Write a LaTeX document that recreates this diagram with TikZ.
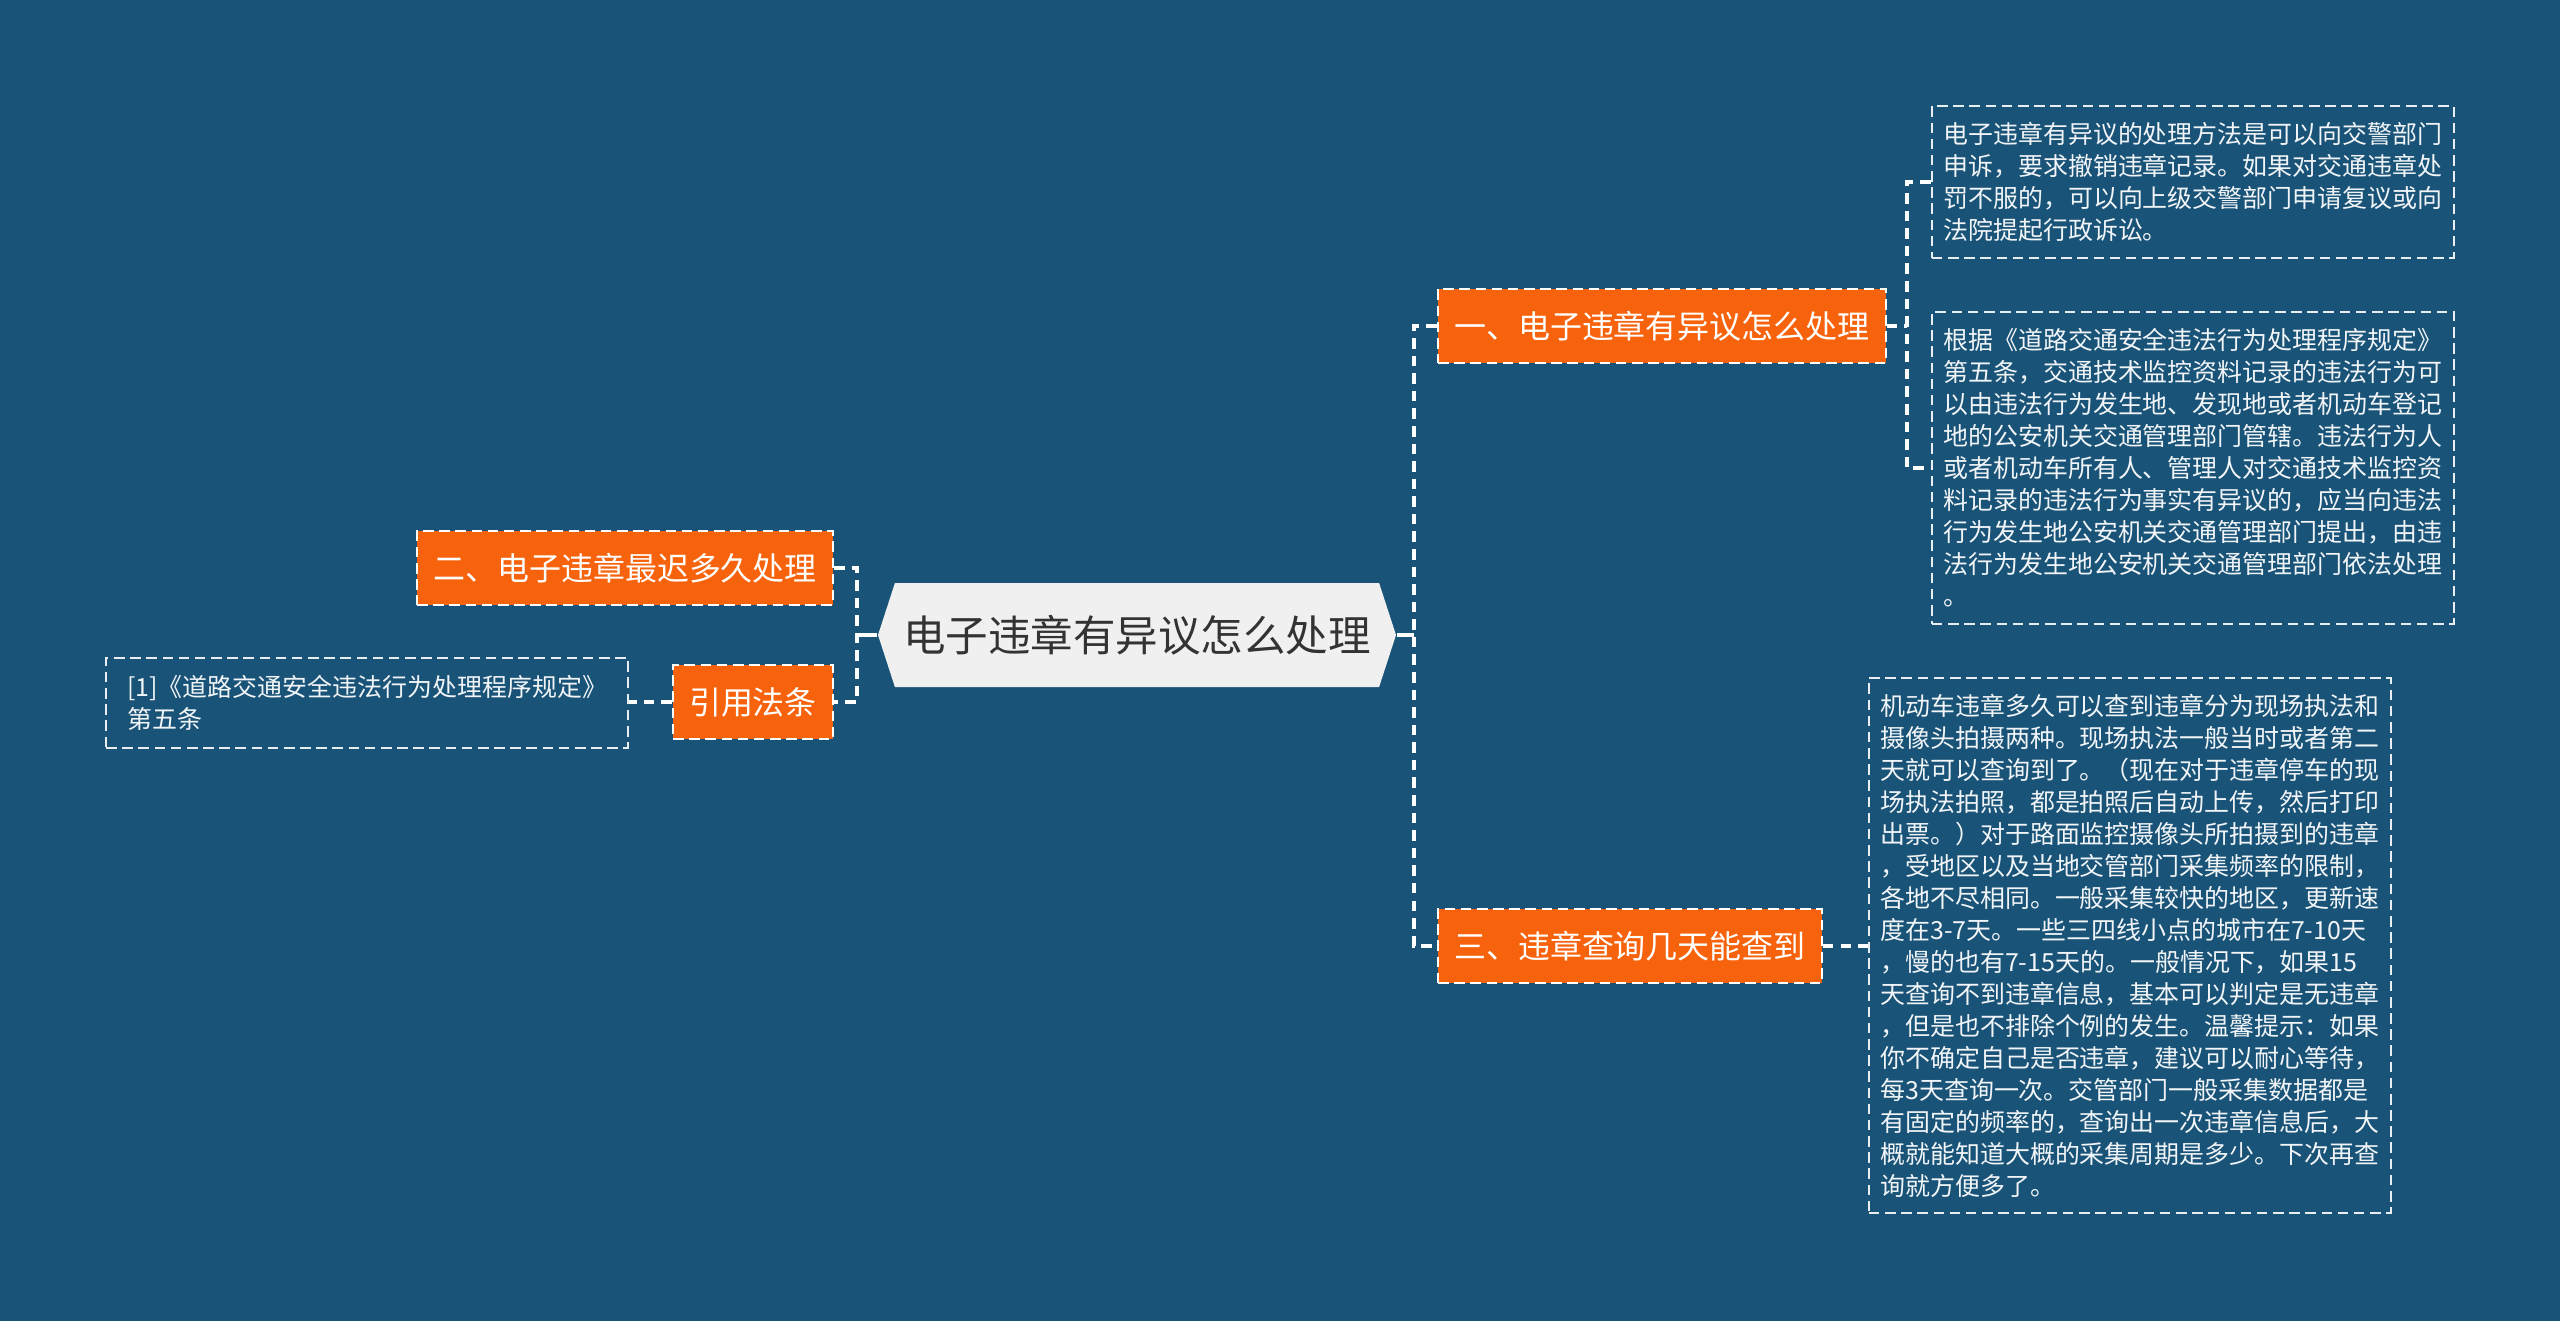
\documentclass[tikz,border=0pt]{standalone}
\usepackage{fontspec}
\setmainfont{Noto Sans CJK SC}
\usetikzlibrary{shapes.symbols}
\definecolor{bgblue}{RGB}{26,83,120}
\definecolor{branchorange}{RGB}{247,99,12}
\definecolor{rootgray}{RGB}{240,240,240}
\definecolor{roottext}{RGB}{51,51,51}
\tikzset{
  root/.style={signal, signal to=east and west, signal pointer angle=144, fill=rootgray, text=roottext, minimum width=5.18cm, minimum height=1.04cm, inner sep=0pt, font=\fontsize{12.1pt}{14pt}\selectfont},
  branch/.style={rectangle, draw=white, dash pattern=on 3pt off 1.6pt, line width=0.6pt, fill=branchorange, text=white, inner xsep=0.16cm, minimum height=0.74cm, font=\fontsize{9.1pt}{11pt}\selectfont},
  leaf/.style={rectangle, draw=white!90!bgblue, dash pattern=on 3pt off 1.6pt, line width=0.5pt, text=white!94!bgblue, align=left, minimum width=5.22cm, inner sep=0.1cm, font=\fontsize{7.1pt}{9.1pt}\selectfont},
}

\begin{document}
\begin{tikzpicture}[
  link/.style={draw=white, line width=0.9pt},
  dashlink/.style={link, dash pattern=on 3pt off 2pt}
]
  \useasboundingbox (0,0) rectangle (25.6,-13.21);
  \fill[bgblue] (0,0) rectangle (25.6,-13.21);

  \node[root] (center) at (11.37,-6.35) {电子违章有异议怎么处理};

  \node[branch, anchor=west] (first) at (14.37,-3.26) {一、电子违章有异议怎么处理};
  \node[branch, anchor=west] (third) at (14.37,-9.46) {三、违章查询几天能查到};
  \node[branch, anchor=east] (second) at (8.34,-5.68) {二、电子违章最迟多久处理};
  \node[branch, anchor=east] (cite) at (8.34,-7.02) {引用法条};

  \node[leaf, anchor=west, minimum height=1.52cm] (appeal) at (19.31,-1.82)
        {电子违章有异议的处理方法是可以向交警部门\\
         申诉，要求撤销违章记录。如果对交通违章处\\
         罚不服的，可以向上级交警部门申请复议或向\\
         法院提起行政诉讼。};
  \node[leaf, anchor=west, minimum height=3.12cm] (rule) at (19.31,-4.68)
        {根据《道路交通安全违法行为处理程序规定》\\
         第五条，交通技术监控资料记录的违法行为可\\
         以由违法行为发生地、发现地或者机动车登记\\
         地的公安机关交通管理部门管辖。违法行为人\\
         或者机动车所有人、管理人对交通技术监控资\\
         料记录的违法行为事实有异议的，应当向违法\\
         行为发生地公安机关交通管理部门提出，由违\\
         法行为发生地公安机关交通管理部门依法处理\\
         。};
  \node[leaf, anchor=west, minimum height=5.35cm] (query) at (18.68,-9.455)
        {机动车违章多久可以查到违章分为现场执法和\\
         摄像头拍摄两种。现场执法一般当时或者第二\\
         天就可以查询到了。（现在对于违章停车的现\\
         场执法拍照，都是拍照后自动上传，然后打印\\
         出票。）对于路面监控摄像头所拍摄到的违章\\
         ，受地区以及当地交管部门采集频率的限制，\\
         各地不尽相同。一般采集较快的地区，更新速\\
         度在3-7天。一些三四线小点的城市在7-10天\\
         ，慢的也有7-15天的。一般情况下，如果15\\
         天查询不到违章信息，基本可以判定是无违章\\
         ，但是也不排除个例的发生。温馨提示：如果\\
         你不确定自己是否违章，建议可以耐心等待，\\
         每3天查询一次。交管部门一般采集数据都是\\
         有固定的频率的，查询出一次违章信息后，大\\
         概就能知道大概的采集周期是多少。下次再查\\
         询就方便多了。};
  \node[leaf, anchor=east, minimum height=0.90cm] (ref) at (6.29,-7.03)
        {[1]《道路交通安全违法行为处理程序规定》\\
         第五条};

  \coordinate (rtrunk) at (14.14,-6.35);
  \coordinate (ltrunk) at (8.57,-6.35);
  \coordinate (ftrunk) at (19.07,-3.26);

  \draw[link] (center.east) -- (rtrunk);
  \draw[dashlink] (first.west) -| (rtrunk) |- (third.west);
  \draw[link] (center.west) -- (ltrunk);
  \draw[dashlink] (second.east) -| (ltrunk) |- (cite.east);
  \draw[dashlink] (first.east) -- (ftrunk);
  \draw[dashlink] (appeal.west) -| (ftrunk) |- (rule.west);
  \draw[dashlink] (third.east) -- (third.east -| query.west);
  \draw[dashlink] (cite.west) -- (cite.west -| ref.east);
\end{tikzpicture}
\end{document}
